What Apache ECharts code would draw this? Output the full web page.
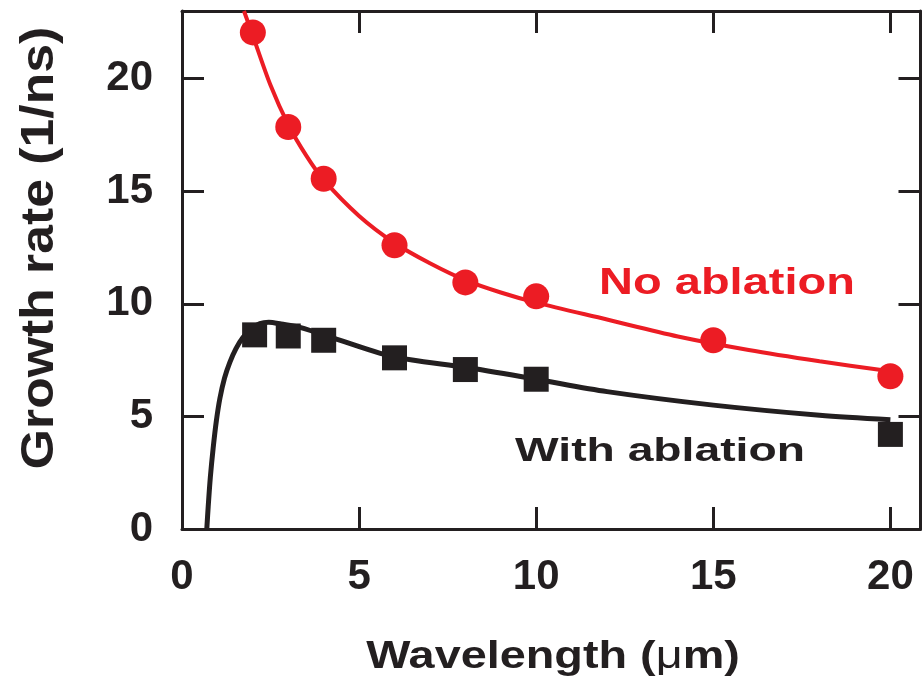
<!DOCTYPE html>
<html>
<head>
<meta charset="utf-8">
<script src="https://cdn.jsdelivr.net/npm/echarts@6/dist/echarts.min.js"></script>
<style>
html,body{margin:0;padding:0;background:#fff;}
#chart{width:922px;height:687px;}
</style>
</head>
<body>
<div id="chart"></div>
<script>
// ---- data ----
var xTicks = [0, 5, 10, 15, 20];
var yTicks = [0, 5, 10, 15, 20];
var noAblationPoints = [[2, 22.05], [3, 17.85], [4, 15.55], [6, 12.6], [8, 10.95], [10, 10.33], [15, 8.38], [20, 6.78]];
var withAblationPoints = [[2.05, 8.62], [3, 8.57], [4, 8.38], [6, 7.6], [8, 7.08], [10, 6.65], [20, 4.2]];
var noAblationCurve = [[1.75, 23], [2, 21.9], [2.5, 19.7], [3, 17.95], [3.5, 16.6], [4, 15.5], [5, 13.9], [6, 12.7], [7, 11.8], [8, 11.05], [9, 10.5], [10, 10.05], [12, 9.3], [14, 8.55], [16, 7.95], [18, 7.45], [20, 7.0]];
var withAblationCurve = [[0.7, 0], [0.74, 1.0], [0.8, 2.3], [0.88, 3.6], [0.97, 4.8], [1.07, 5.8], [1.2, 6.7], [1.35, 7.4], [1.52, 8.0], [1.72, 8.5], [1.95, 8.88], [2.2, 9.12], [2.45, 9.18], [2.8, 9.1], [3.33, 8.95], [4.38, 8.42], [5.6, 7.8], [6.5, 7.5], [8, 7.18], [10, 6.65], [12, 6.1], [15, 5.5], [18, 5.05], [20, 4.85]];
var labelNo = 'No ablation';
var labelWith = 'With ablation';
var xTitleParts = ['Wavelength (', '\u03bc', 'm)'];
var yTitle = 'Growth rate (1/ns)';

var RED = '#ec1c24';
var BLACK = '#231f20';
var FONT = 'Liberation Sans, Arial, sans-serif';

var chart = echarts.init(document.getElementById('chart'), null, {renderer: 'canvas'});

function tickFmt(list) {
  return function (v) {
    for (var i = 0; i < list.length; i++) { if (Math.abs(list[i] - v) < 1e-6) return String(list[i]); }
    return '';
  };
}

var axisLineStyle = {color: BLACK, width: 3};
var option = {
  animation: false,
  backgroundColor: '#fff',
  grid: {left: 182, top: 11, right: 1.5, bottom: 158, containLabel: false},
  xAxis: [{
    type: 'value', min: 0, max: 20.85, interval: 5, position: 'bottom',
    axisLine: {show: true, onZero: false, lineStyle: axisLineStyle},
    axisTick: {show: true, inside: true, length: 22, lineStyle: {color: BLACK, width: 3}},
    axisLabel: {formatter: tickFmt(xTicks), fontSize: 42, fontWeight: 'bold', color: BLACK, fontFamily: FONT, margin: 27, showMaxLabel: false},
    splitLine: {show: false}
  }, {
    type: 'value', min: 0, max: 20.85, interval: 5, position: 'top',
    axisLine: {show: true, onZero: false, lineStyle: axisLineStyle},
    axisTick: {show: true, inside: true, length: 22, lineStyle: {color: BLACK, width: 3}},
    axisLabel: {show: false}, splitLine: {show: false}
  }],
  yAxis: [{
    type: 'value', min: 0, max: 23, interval: 5, position: 'left',
    axisLine: {show: true, onZero: false, lineStyle: axisLineStyle},
    axisTick: {show: true, inside: true, length: 22, lineStyle: {color: BLACK, width: 3}},
    axisLabel: {formatter: tickFmt(yTicks), fontSize: 42, fontWeight: 'bold', color: BLACK, fontFamily: FONT, margin: 29, showMaxLabel: false},
    splitLine: {show: false}
  }, {
    type: 'value', min: 0, max: 23, interval: 5, position: 'right',
    axisLine: {show: true, onZero: false, lineStyle: axisLineStyle},
    axisTick: {show: true, inside: true, length: 22, lineStyle: {color: BLACK, width: 3}},
    axisLabel: {show: false}, splitLine: {show: false}
  }],
  series: [
    {type: 'line', data: noAblationCurve, smooth: 0.3, showSymbol: false, symbol: 'none',
     lineStyle: {color: RED, width: 4}, z: 2},
    {type: 'line', data: withAblationCurve, smooth: 0.3, showSymbol: false, symbol: 'none',
     lineStyle: {color: BLACK, width: 5}, z: 2},
    {type: 'scatter', data: noAblationPoints, symbol: 'circle', symbolSize: 26,
     itemStyle: {color: RED, opacity: 1}, z: 3},
    {type: 'scatter', data: withAblationPoints, symbol: 'rect', symbolSize: 25,
     itemStyle: {color: BLACK, opacity: 1}, z: 3}
  ],
  graphic: [
    {type: 'text', x: 727, y: 284, scaleX: 1.27, z: 10,
     style: {text: labelNo, fill: RED, font: 'bold 37px ' + FONT, textAlign: 'center', textVerticalAlign: 'middle'}},
    {type: 'text', x: 660, y: 452, scaleX: 1.36, z: 10,
     style: {text: labelWith, fill: BLACK, font: 'bold 34px ' + FONT, textAlign: 'center', textVerticalAlign: 'middle'}},
    {type: 'text', x: 553, y: 657, scaleX: 1.2, z: 10,
     style: {
       text: '{b|' + xTitleParts[0] + '}{n|' + xTitleParts[1] + '}{b|' + xTitleParts[2] + '}',
       fill: BLACK, align: 'center', verticalAlign: 'middle', textAlign: 'center', textVerticalAlign: 'middle',
       rich: {
         b: {fontWeight: 'bold', fontSize: 39, fontFamily: FONT, fill: BLACK, color: BLACK},
         n: {fontWeight: 'normal', fontSize: 39, fontFamily: FONT, fill: BLACK, color: BLACK}
       }
     }},
    {type: 'text', x: 40, y: 248, rotation: Math.PI / 2, scaleX: 1.1, z: 10,
     style: {text: yTitle, fill: BLACK, font: 'bold 47px ' + FONT, textAlign: 'center', textVerticalAlign: 'middle'}}
  ]
};
chart.setOption(option);
</script>
</body>
</html>
